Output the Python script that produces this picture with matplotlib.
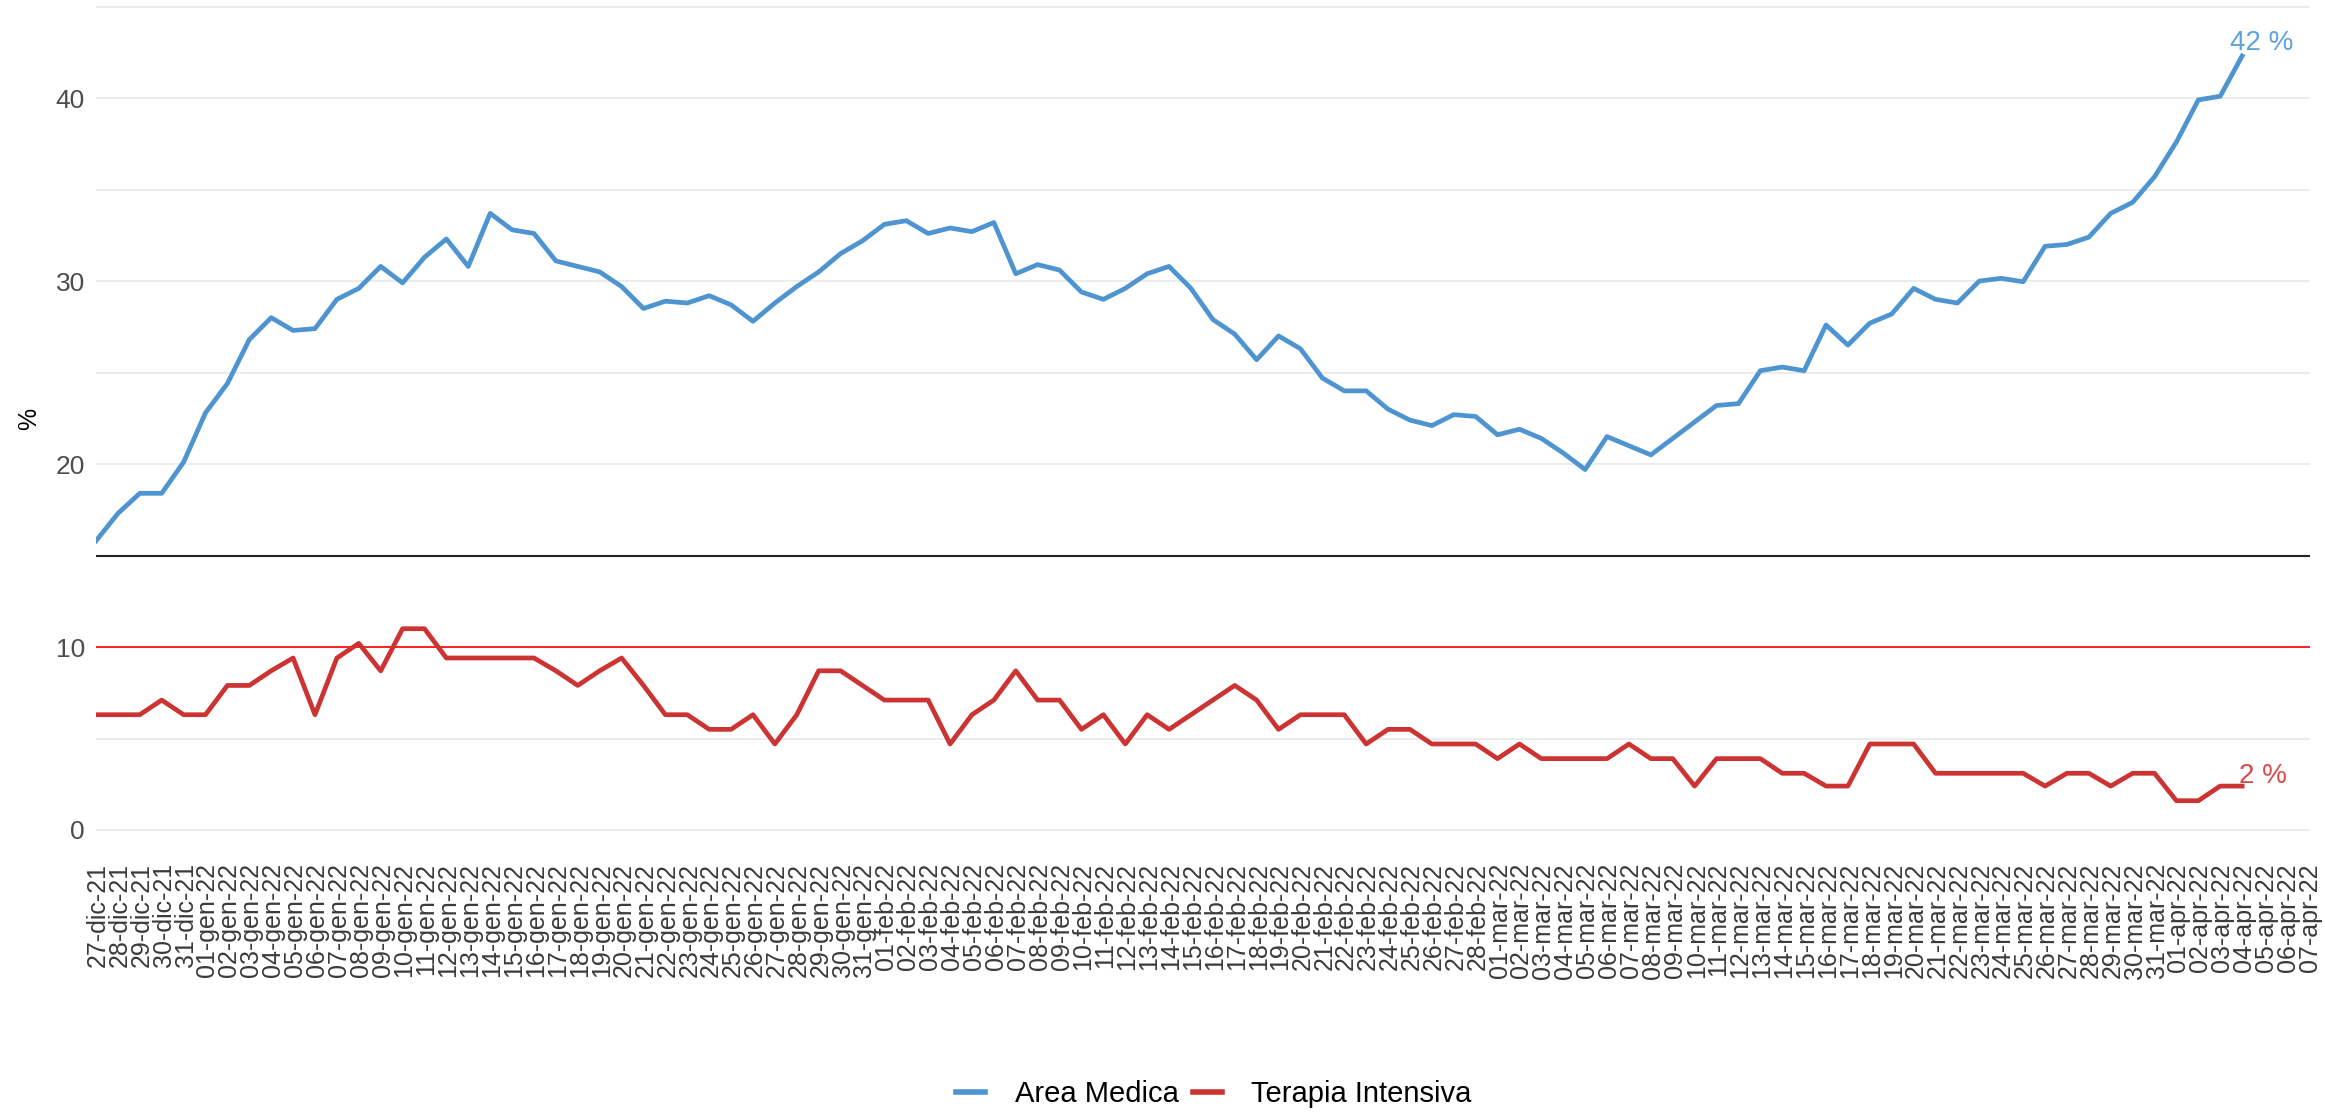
import pandas as pd
import matplotlib
matplotlib.use("Agg")
import matplotlib.pyplot as plt
from matplotlib.lines import Line2D
from matplotlib.transforms import ScaledTranslation

plt.rcParams['font.family'] = ['Liberation Sans', 'DejaVu Sans']

# daily occupancy (%) from 27-dic-21 to 04-apr-22
dates = pd.date_range('2021-12-27', '2022-04-04', freq='D')
area_medica = [15.8, 17.3, 18.4, 18.4, 20.1, 22.8, 24.4, 26.8, 28.0, 27.3,
               27.4, 29.0, 29.6, 30.8, 29.9, 31.3, 32.3, 30.8, 33.7, 32.8,
               32.6, 31.1, 30.8, 30.5, 29.7, 28.5, 28.9, 28.8, 29.2, 28.7,
               27.8, 28.8, 29.7, 30.5, 31.5, 32.2, 33.1, 33.3, 32.6, 32.9,
               32.7, 33.2, 30.4, 30.9, 30.6, 29.4, 29.0, 29.6, 30.4, 30.8,
               29.6, 27.9, 27.1, 25.7, 27.0, 26.3, 24.7, 24.0, 24.0, 23.0,
               22.4, 22.1, 22.7, 22.6, 21.6, 21.9, 21.4, 20.6, 19.7, 21.5,
               21.0, 20.5, 21.4, 22.3, 23.2, 23.3, 25.1, 25.3, 25.1, 27.6,
               26.5, 27.7, 28.2, 29.6, 29.0, 28.8, 30.0, 30.15, 29.96, 31.9,
               32.0, 32.4, 33.7, 34.3, 35.7, 37.6, 39.9, 40.1, 42.3]
terapia_intensiva = [6.3, 6.3, 6.3, 7.1, 6.3, 6.3, 7.9, 7.9, 8.7, 9.4,
                     6.3, 9.4, 10.2, 8.7, 11.0, 11.0, 9.4, 9.4, 9.4, 9.4,
                     9.4, 8.7, 7.9, 8.7, 9.4, 7.9, 6.3, 6.3, 5.5, 5.5,
                     6.3, 4.7, 6.3, 8.7, 8.7, 7.9, 7.1, 7.1, 7.1, 4.7,
                     6.3, 7.1, 8.7, 7.1, 7.1, 5.5, 6.3, 4.7, 6.3, 5.5,
                     6.3, 7.1, 7.9, 7.1, 5.5, 6.3, 6.3, 6.3, 4.7, 5.5,
                     5.5, 4.7, 4.7, 4.7, 3.9, 4.7, 3.9, 3.9, 3.9, 3.9,
                     4.7, 3.9, 3.9, 2.4, 3.9, 3.9, 3.9, 3.1, 3.1, 2.4,
                     2.4, 4.7, 4.7, 4.7, 3.1, 3.1, 3.1, 3.1, 3.1, 2.4,
                     3.1, 3.1, 2.4, 3.1, 3.1, 1.6, 1.6, 2.4, 2.4]
soglia_area_medica = 15
soglia_terapia_intensiva = 10
tick_dates = pd.date_range('2021-12-27', '2022-04-07', freq='D')
mesi = {12: 'dic', 1: 'gen', 2: 'feb', 3: 'mar', 4: 'apr'}
tick_labels = [f"{d.day:02d}-{mesi[d.month]}-{d.strftime('%y')}" for d in tick_dates]

blue = '#4D94D0'
red = '#CC3333'

fig = plt.figure(figsize=(23.25, 11.14), dpi=100)
ax = fig.add_axes([96 / 2325, 1 - 845 / 1114, 2214 / 2325, 845 / 1114])

for y in range(0, 50, 5):
    ax.axhline(y, color='#EBEBEB', lw=1.3, zorder=0)
ax.axhline(soglia_area_medica, color='#222222', lw=1.5, zorder=1)
ax.axhline(soglia_terapia_intensiva, color='#FF2020', lw=1.4, zorder=1)

ax.plot(dates, area_medica, color=blue, lw=3.4, solid_joinstyle='round', zorder=3)
ax.plot(dates, terapia_intensiva, color=red, lw=3.4, solid_joinstyle='round', zorder=3)

ax.annotate(f"{round(area_medica[-1])} %", (dates[-1], area_medica[-1]),
            xytext=(-12, 0), textcoords='offset pixels', ha='left', va='bottom',
            fontsize=20, color='#5EA2DC')
ax.annotate(f"{round(terapia_intensiva[-1])} %", (dates[-1], terapia_intensiva[-1]),
            xytext=(-3, -3), textcoords='offset pixels', ha='left', va='bottom',
            fontsize=20, color='#DA4A4A')

ax.set_xlim(dates[0], dates[0] + pd.Timedelta(days=101.1))
ax.set_ylim(-0.82, 45.36)
ax.set_yticks([0, 10, 20, 30, 40])
ax.tick_params(axis='y', length=0, pad=8, labelsize=19, labelcolor='#4D4D4D')
ax.set_xticks(tick_dates)
ax.set_xticklabels(tick_labels, rotation=90, ha='center', va='top')
ax.tick_params(axis='x', length=0, pad=13, labelsize=18, labelcolor='#3A3A3A')
shift = ScaledTranslation(2 / 100, 0, fig.dpi_scale_trans)
for lbl in ax.get_xticklabels():
    lbl.set_transform(lbl.get_transform() + shift)
for s in ax.spines.values():
    s.set_visible(False)

fig.text(29 / 2325, 1 - 419 / 1114, '%', rotation=90, ha='center', va='center',
         fontsize=18, color='black')

handles = [Line2D([], [], color=blue, lw=4), Line2D([], [], color=red, lw=4)]
fig.legend(handles, ['Area Medica', 'Terapia Intensiva'], loc='center',
           bbox_to_anchor=(1214 / 2325, 1 - 1094 / 1114), ncol=2, frameon=False,
           fontsize=21, handlelength=1.0, handletextpad=1.0, columnspacing=0.5)

fig.savefig('out.png', dpi=100)
